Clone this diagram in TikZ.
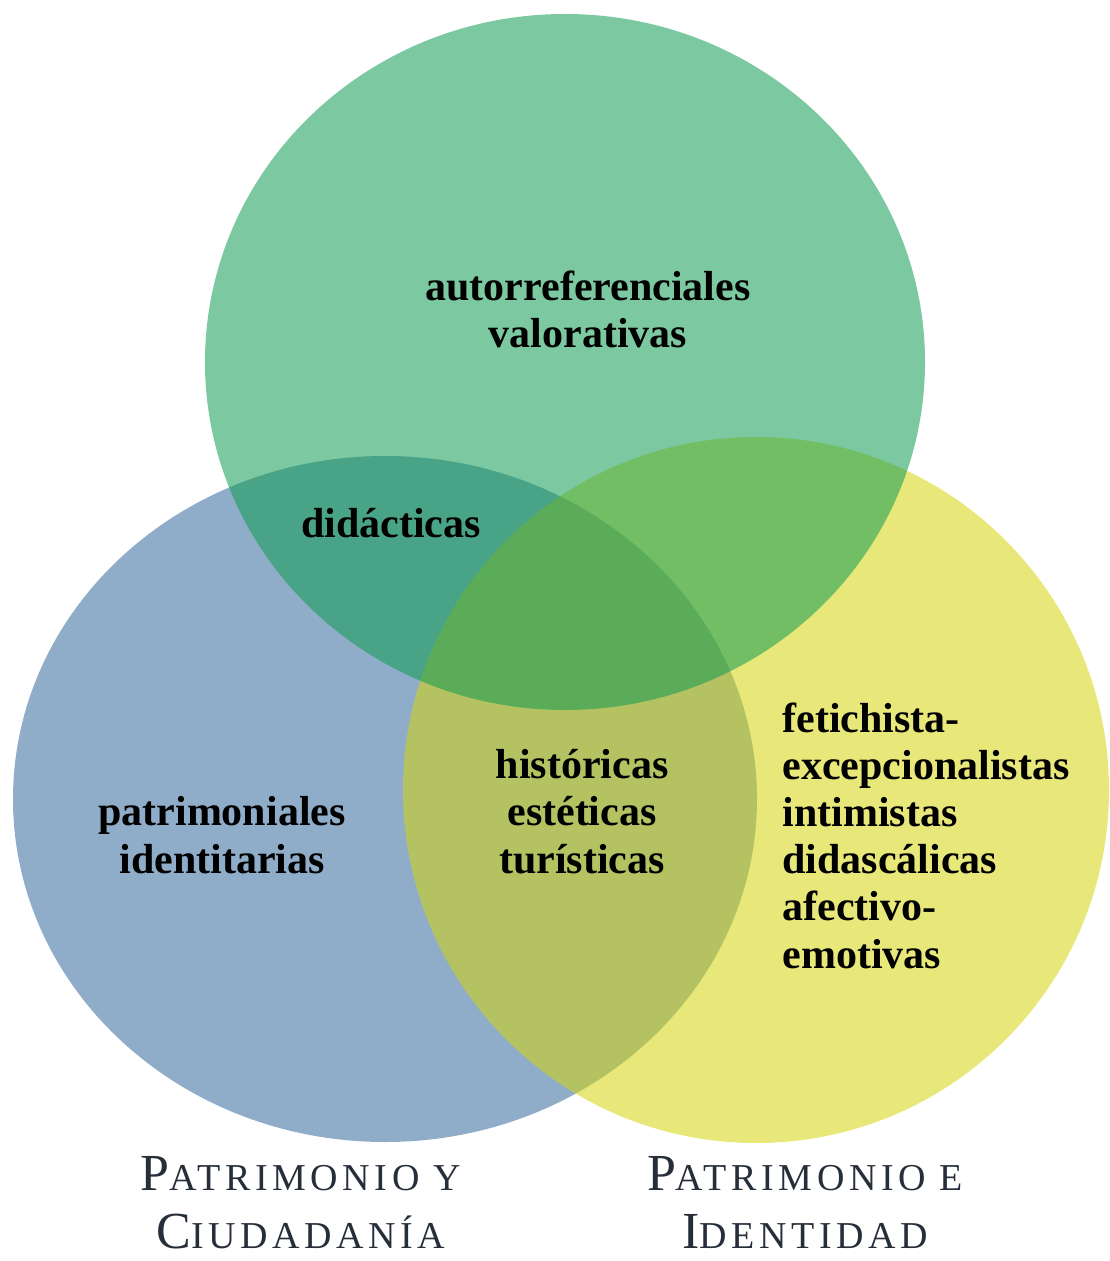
\documentclass[tikz,border=0pt]{standalone}
\usepackage{fontspec}
\setmainfont{Liberation Serif}
\newfontfamily\titlefont[LetterSpace=12]{Liberation Serif}

\definecolor{vennblue}{RGB}{51,106,155}
\definecolor{vennyellow}{RGB}{213,213,13}
\definecolor{venngreen}{RGB}{17,155,82}
\definecolor{titlegray}{RGB}{38,46,58}

% big first letter, small capitals after it
\newcommand{\capword}[2]{{\fontsize{26}{29}\selectfont #1}#2}

\begin{document}
\begin{tikzpicture}[x=0.5pt, y=-0.5pt,
every node/.style={inner sep=0pt, anchor=base,
    font=\bfseries\fontsize{21}{23.6}\selectfont
    },
set/.style={fill=#1, fill opacity=0.55},
title/.style={align=center, text=titlegray,
    font=\titlefont\fontsize{19}{29}\selectfont}
]
\useasboundingbox (0,0) rectangle (1109,1261);

\foreach \col/\cx/\cy/\rx/\ry in {vennblue/385/799/372/343,
                                  vennyellow/756/790/353/353,
                                  venngreen/565/362/360/348}
    \fill[set=\col] (\cx,\cy) ellipse [x radius=\rx, y radius=\ry];

% base anchor of a node of several lines sits on its last line
\node[align=center] (valor) at (588,348) {autorreferenciales\\valorativas};
\node (didac) at (391,537) {didácticas};
\node[align=center] (patri) at (222,873) {patrimoniales\\identitarias};
\node[align=center] (hist) at (582,873) {históricas\\estéticas\\turísticas};
\node[align=left, anchor=base west] (fetich) at (782,968)
    {fetichista-\\excepcionalistas\\intimistas\\didascálicas\\afectivo-\\emotivas};

\node[title] (ciudad) at (301,1248) {\capword{P}{ATRIMONIO Y}\\\capword{C}{IUDADANÍA}};
\node[title] (ident) at (805,1248) {\capword{P}{ATRIMONIO E}\\\capword{I}{DENTIDAD}};
\end{tikzpicture}
\end{document}
